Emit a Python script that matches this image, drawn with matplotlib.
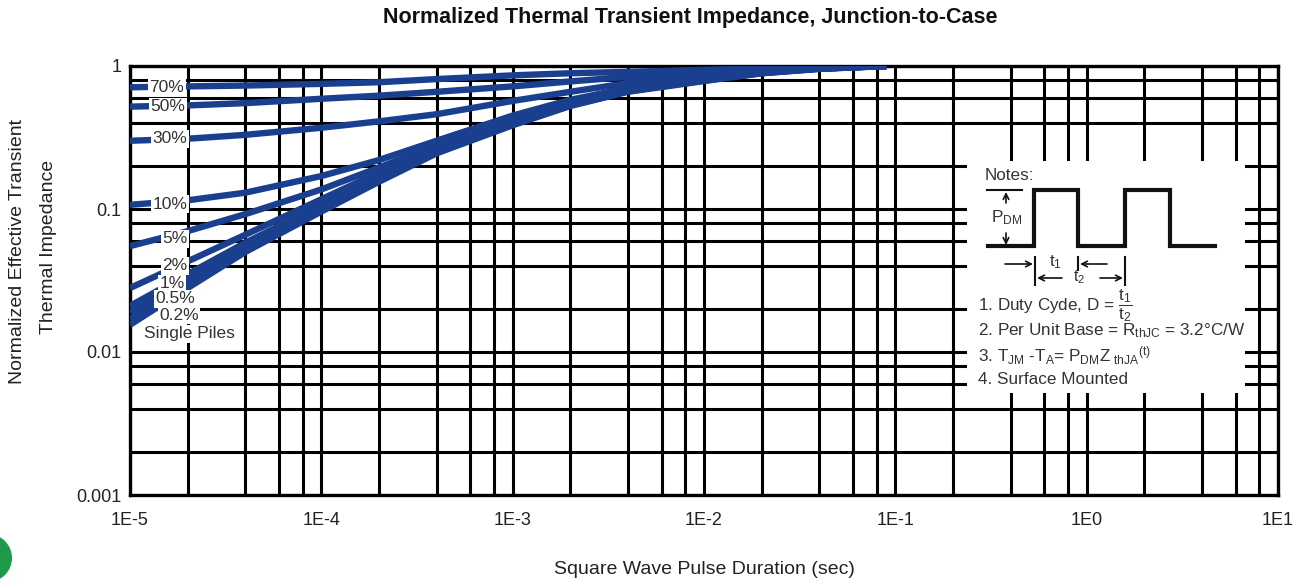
import numpy as np
import matplotlib
matplotlib.use("Agg")
import matplotlib.pyplot as plt
from matplotlib.patches import Rectangle, Circle
from matplotlib.lines import Line2D

plt.rcParams['font.family'] = ['Liberation Sans', 'DejaVu Sans']
plt.rcParams['mathtext.default'] = 'regular'

# Pulse duration (s) sampled along each curve
t = [1e-5, 2e-5, 4e-5, 1e-4, 2e-4, 4e-4, 1e-3, 2e-3, 4e-3, 1e-2, 2e-2, 4e-2, 9e-2]

# Normalized Zth, one list per duty cycle
z_70 = [0.71, 0.72, 0.73, 0.75, 0.77, 0.81, 0.86, 0.89, 0.91, 0.94, 0.96, 0.98, 1.0]
z_50 = [0.52, 0.53, 0.55, 0.59, 0.62, 0.66, 0.72, 0.78, 0.84, 0.91, 0.95, 0.98, 1.0]
z_30 = [0.30, 0.31, 0.33, 0.37, 0.41, 0.46, 0.57, 0.66, 0.76, 0.88, 0.93, 0.97, 1.0]
z_10 = [0.107, 0.115, 0.13, 0.17, 0.22, 0.30, 0.45, 0.58, 0.70, 0.84, 0.92, 0.97, 1.0]
z_5 = [0.055, 0.07, 0.092, 0.137, 0.195, 0.28, 0.43, 0.56, 0.69, 0.82, 0.91, 0.96, 1.0]
z_2 = [0.028, 0.043, 0.066, 0.117, 0.18, 0.265, 0.415, 0.55, 0.68, 0.81, 0.90, 0.96, 1.0]
z_1 = [0.021, 0.035, 0.058, 0.107, 0.17, 0.26, 0.405, 0.54, 0.675, 0.80, 0.90, 0.96, 1.0]
z_05 = [0.019, 0.032, 0.055, 0.103, 0.165, 0.255, 0.40, 0.535, 0.67, 0.795, 0.895, 0.96, 1.0]
z_02 = [0.017, 0.030, 0.052, 0.099, 0.16, 0.25, 0.39, 0.53, 0.665, 0.79, 0.89, 0.955, 1.0]
z_single = [0.0155, 0.028, 0.05, 0.096, 0.155, 0.245, 0.385, 0.525, 0.66, 0.785, 0.89, 0.955, 1.0]

curves = [z_70, z_50, z_30, z_10, z_5, z_2, z_1, z_05, z_02, z_single]

# curve labels and where they sit (t, z)
labels = ["70%", "50%", "30%", "10%", "5%", "2%", "1%", "0.5%", "0.2%", "Single Piles"]
label_t = [1.56e-5, 1.58e-5, 1.62e-5, 1.62e-5, 1.72e-5, 1.72e-5, 1.66e-5, 1.72e-5, 1.8e-5, 2.05e-5]
label_z = [0.71, 0.52, 0.31, 0.108, 0.062, 0.040, 0.030, 0.0235, 0.018, 0.0134]

x_ticks = [1e-5, 1e-4, 1e-3, 1e-2, 1e-1, 1e0, 1e1]
x_ticklabels = ["1E-5", "1E-4", "1E-3", "1E-2", "1E-1", "1E0", "1E1"]
y_ticks = [0.001, 0.01, 0.1, 1]
y_ticklabels = ["0.001", "0.01", "0.1", "1"]

W, H = 1297, 580
fig = plt.figure(figsize=(W / 100, H / 100), dpi=100)
ax = fig.add_axes([130 / W, 1 - 495 / H, 1148 / W, 429 / H])

blue = '#1b3f8f'
for z in curves:
    ax.plot(t, z, color=blue, lw=4.6, solid_capstyle='butt', zorder=3)

ax.set_xscale('log')
ax.set_yscale('log')
ax.set_xlim(1e-5, 1e1)
ax.set_ylim(1e-3, 1)

# grid at 1, 2, 4, 6, 8 of each decade
minor_x = [m * 10.0 ** e for e in range(-5, 1) for m in (2, 4, 6, 8)]
minor_y = [m * 10.0 ** e for e in range(-3, 0) for m in (2, 4, 6, 8)]
ax.set_xticks(x_ticks)
ax.set_xticklabels(x_ticklabels)
ax.set_xticks(minor_x, minor=True)
ax.set_xticklabels([], minor=True)
ax.set_yticks(y_ticks)
ax.set_yticklabels(y_ticklabels)
ax.set_yticks(minor_y, minor=True)
ax.set_yticklabels([], minor=True)
ax.tick_params(which='both', length=0, labelsize=13, colors='#222222')
ax.tick_params(axis='x', pad=12)
ax.tick_params(axis='y', pad=6)
ax.set_axisbelow(True)
ax.grid(which='both', color='black', lw=2.2)
for s in ax.spines.values():
    s.set_linewidth(2.4)
    s.set_color('black')

for lab, lt, lz in zip(labels, label_t, label_z):
    ax.text(lt, lz, lab, fontsize=12.5, color='#333333', ha='center', va='center', zorder=6,
            bbox=dict(boxstyle='square,pad=0.08', fc='white', ec='none'))

# white notes panel over the grid
ax.add_patch(Rectangle((0.729, 0.238), 0.242, 0.54, transform=ax.transAxes,
                       fc='white', ec='none', zorder=2))


def px(x, y):
    return (x / W, 1 - y / H)


note_kw = dict(fontsize=12.3, color='#333333', va='center', ha='left')
fig.text(*px(985, 176), "Notes:", **note_kw)

wave_x = [988, 1034, 1034, 1078, 1078, 1125, 1125, 1170, 1170, 1215]
wave_y = [246, 246, 190, 190, 246, 246, 190, 190, 246, 246]
fig.add_artist(Line2D([x / W for x in wave_x], [1 - y / H for y in wave_y],
                      color='#111111', lw=3, solid_joinstyle='miter'))
fig.add_artist(Line2D([987 / W, 1022 / W], [1 - 190 / H] * 2, color='#111111', lw=1.5))
for x in (1035, 1078, 1125):
    y_end = 270 if x == 1078 else 285
    fig.add_artist(Line2D([x / W] * 2, [1 - 257 / H, 1 - y_end / H], color='#111111', lw=1.5))

arrow = dict(arrowstyle='->', color='#111111', lw=1.2, shrinkA=0, shrinkB=0)
fig.add_artist(plt.Annotation('', xy=px(1006, 192), xytext=px(1006, 203),
                              xycoords='figure fraction', arrowprops=arrow))
fig.add_artist(plt.Annotation('', xy=px(1006, 245), xytext=px(1006, 233),
                              xycoords='figure fraction', arrowprops=arrow))
fig.add_artist(plt.Annotation('', xy=px(1033, 264), xytext=px(1005, 264),
                              xycoords='figure fraction', arrowprops=arrow))
fig.add_artist(plt.Annotation('', xy=px(1080, 264), xytext=px(1107, 264),
                              xycoords='figure fraction', arrowprops=arrow))
fig.add_artist(plt.Annotation('', xy=px(1037, 278), xytext=px(1062, 278),
                              xycoords='figure fraction', arrowprops=arrow))
fig.add_artist(plt.Annotation('', xy=px(1123, 278), xytext=px(1100, 278),
                              xycoords='figure fraction', arrowprops=arrow))

fig.text(*px(991, 218), r"P$_{DM}$", **note_kw)
fig.text(*px(1049, 262), r"t$_1$", **note_kw)
fig.text(*px(1073, 277), r"t$_2$", **dict(note_kw, fontsize=11.5))
fig.text(*px(978, 306), r"1. Duty Cyde, D = $\dfrac{t_1}{t_2}$", **note_kw)
fig.text(*px(978, 331), r"2. Per Unit Base = R$_{thJC}$ = 3.2°C/W", **note_kw)
fig.text(*px(978, 356), r"3. T$_{JM}$ -T$_A$= P$_{DM}$Z$_{\ thJA}$$^{(t)}$", **note_kw)
fig.text(*px(978, 380), "4. Surface Mounted", **note_kw)

fig.text(*px(690, 18), "Normalized Thermal Transient Impedance, Junction-to-Case",
         fontsize=15.5, fontweight='bold', ha='center', va='center', color='#111111')
fig.text(*px(704, 570), "Square Wave Pulse Duration (sec)",
         fontsize=14, ha='center', va='center', color='#222222')
fig.text(*px(18, 252), "Normalized Effective Transient", rotation=90,
         fontsize=14, ha='center', va='center', color='#222222')
fig.text(*px(49, 247), "Thermal Impedance", rotation=90,
         fontsize=14, ha='center', va='center', color='#222222')

# green logo fragment at the lower left corner
fig.add_artist(Circle((-12, 22), 24, transform=None, fc='#1e9a4a', ec='none'))

fig.savefig("out.png", dpi=100)
